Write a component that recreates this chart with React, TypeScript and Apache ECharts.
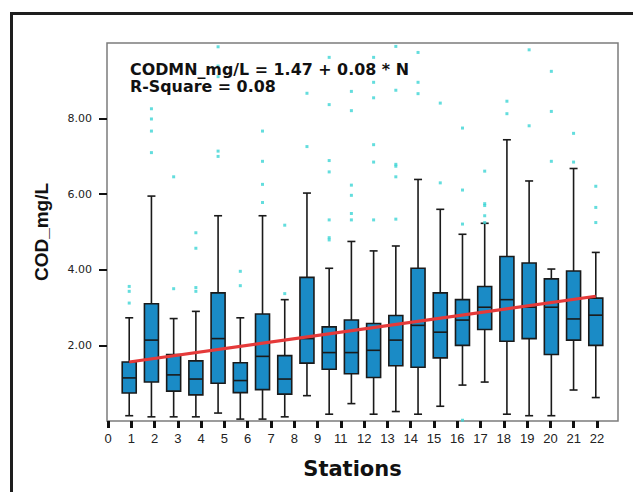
import React, { useEffect, useRef } from "react";
import * as echarts from "echarts";

// Box positions along the station axis (1..22)
const POSITIONS = [1, 2, 3, 4, 5, 6, 7, 8, 9, 10, 11, 12, 13, 14, 15, 16, 17, 18, 19, 20, 21, 22];
// Tick labels as printed under the axis
const TICK_LABELS = ["0", "1", "2", "3", "4", "5", "6", "7", "8", "9", "11", "12", "13", "14", "15", "16", "17", "18", "19", "20", "21", "22"];

const LOWS = [0.14, 0.11, 0.11, 0.11, 0.21, 0.05, 0.05, 0.11, 0.67, 0.18, 0.46, 0.18, 0.25, 0.18, 0.39, 0.95, 1.03, 0.18, 0.14, 0.14, 0.82, 0.62];
const Q1S = [0.74, 1.03, 0.79, 0.69, 1.0, 0.75, 0.83, 0.71, 1.53, 1.37, 1.25, 1.15, 1.46, 1.42, 1.67, 2.0, 2.42, 2.11, 2.18, 1.76, 2.14, 2.0];
const MEDIANS = [1.14, 2.14, 1.22, 1.11, 2.18, 1.07, 1.71, 1.11, 2.18, 1.81, 1.81, 1.87, 2.14, 2.53, 2.35, 2.67, 3.01, 3.21, 3.01, 3.01, 2.7, 2.8];
const Q3S = [1.56, 3.1, 1.76, 1.59, 3.39, 1.54, 2.83, 1.73, 3.8, 2.49, 2.67, 2.58, 2.79, 4.04, 3.39, 3.21, 3.56, 4.35, 4.18, 3.76, 3.97, 3.25];
const HIGHS = [2.73, 5.95, 2.71, 2.9, 5.43, 2.73, 5.43, 3.21, 6.03, 4.04, 4.75, 4.5, 4.63, 6.39, 5.6, 4.94, 5.23, 7.44, 6.35, 4.02, 6.68, 4.46];

const OUTLIERS: number[][] = [
  [3.56, 3.43, 3.12],
  [8.26, 7.99, 7.67, 7.1],
  [6.46, 3.5],
  [4.98, 4.57, 3.53, 3.43],
  [9.9, 9.39, 9.11, 7.14, 7.0],
  [3.96, 3.58],
  [7.67, 6.87, 6.26, 5.78],
  [5.18, 3.37],
  [8.67, 7.26],
  [9.62, 8.37, 6.89, 6.59, 5.32, 4.85, 4.79],
  [8.72, 8.21, 6.24, 5.97, 5.49, 5.32],
  [9.62, 8.96, 8.55, 7.31, 6.85, 5.32],
  [9.91, 8.75, 6.79, 6.74, 6.46, 5.34],
  [9.75, 8.96, 8.66],
  [8.41, 6.3],
  [7.75, 6.11, 5.21, 0.02],
  [6.61, 5.75, 5.7, 5.43, 5.25],
  [8.46, 8.13],
  [9.82, 7.81],
  [9.25, 8.19, 6.87],
  [7.61, 6.85],
  [6.21, 5.65, 5.25],
];

// Fitted line end points (station 1 and station 22)
const FIT_X = [1, 22];
const FIT_Y = [1.56, 3.3];

const Y_TICKS = [2, 4, 6, 8];

export default function App() {
  const ref = useRef<HTMLDivElement>(null);

  useEffect(() => {
    if (!ref.current) return;
    const chart = echarts.init(ref.current, undefined, { renderer: "svg" });

    const axisCats = Array.from({ length: 24 }, (_, i) => "p" + i);
    const boxData = POSITIONS.map((p, i) => [p, LOWS[i], Q1S[i], MEDIANS[i], Q3S[i], HIGHS[i]]);
    const outData: number[][] = [];
    POSITIONS.forEach((p, i) => OUTLIERS[i].forEach((v) => outData.push([p, v])));
    const fitData = FIT_X.map((x, i) => [x, FIT_Y[i]]);

    const BOX_W = 14;
    const CAP_W = 8;

    chart.setOption({
      animation: false,
      backgroundColor: "#ffffff",
      textStyle: { fontFamily: "Liberation Sans, Arial, sans-serif" },
      grid: [
        { left: 107, top: 43, width: 511, height: 378, show: true, borderColor: "#7c7c7c", borderWidth: 1.5, backgroundColor: "#ffffff" },
        { left: 108, top: 43, width: 489, height: 378, show: false },
      ],
      xAxis: [
        {
          type: "category",
          gridIndex: 0,
          data: axisCats,
          boundaryGap: false,
          axisLine: { show: false },
          axisTick: { show: false },
          axisLabel: { show: false },
          splitLine: { show: false },
        },
        {
          type: "category",
          gridIndex: 1,
          data: TICK_LABELS,
          boundaryGap: false,
          axisLine: { show: false },
          axisTick: { show: true, length: 7, lineStyle: { color: "#111", width: 3 } },
          axisLabel: { fontSize: 13, color: "#222", margin: 11, interval: 0 },
          splitLine: { show: false },
          name: "Stations",
          nameLocation: "middle",
          nameGap: 37,
          nameTextStyle: { fontSize: 21, fontWeight: "bold", color: "#111", fontFamily: "DejaVu Sans, sans-serif" },
        },
      ],
      yAxis: [
        {
          type: "value",
          gridIndex: 0,
          min: 0,
          max: 10,
          interval: 2,
          axisLine: { show: false },
          axisTick: { show: true, length: 8, lineStyle: { color: "#111", width: 2 }, customValues: Y_TICKS },
          axisLabel: { fontSize: 11, color: "#222", margin: 15, customValues: Y_TICKS, formatter: (v: number) => v.toFixed(2), fontFamily: "DejaVu Sans, sans-serif" },
          splitLine: { show: false },
          name: "COD_mg/L",
          nameLocation: "middle",
          nameRotate: 90,
          nameGap: 56,
          nameTextStyle: { fontSize: 19, fontWeight: "bold", color: "#111" },
        },
        { type: "value", gridIndex: 1, min: 0, max: 10, show: false },
      ],
      series: [
        {
          type: "custom",
          xAxisIndex: 0,
          yAxisIndex: 0,
          data: boxData,
          z: 2,
          renderItem: (params: any, api: any) => {
            const x = api.value(0);
            const pLow = api.coord([x, api.value(1)]);
            const pQ1 = api.coord([x, api.value(2)]);
            const pMed = api.coord([x, api.value(3)]);
            const pQ3 = api.coord([x, api.value(4)]);
            const pHigh = api.coord([x, api.value(5)]);
            const cx = pMed[0];
            const stroke = { stroke: "#1a1a1a", lineWidth: 1.6 };
            return {
              type: "group",
              children: [
                { type: "line", shape: { x1: cx, y1: pHigh[1], x2: cx, y2: pQ3[1] }, style: stroke },
                { type: "line", shape: { x1: cx, y1: pQ1[1], x2: cx, y2: pLow[1] }, style: stroke },
                { type: "line", shape: { x1: cx - CAP_W / 2, y1: pHigh[1], x2: cx + CAP_W / 2, y2: pHigh[1] }, style: stroke },
                { type: "line", shape: { x1: cx - CAP_W / 2, y1: pLow[1], x2: cx + CAP_W / 2, y2: pLow[1] }, style: stroke },
                {
                  type: "rect",
                  shape: { x: cx - BOX_W / 2, y: pQ3[1], width: BOX_W, height: pQ1[1] - pQ3[1] },
                  style: { fill: "#1a8bc6", stroke: "#1a1a1a", lineWidth: 1.6 },
                },
                { type: "line", shape: { x1: cx - BOX_W / 2, y1: pMed[1], x2: cx + BOX_W / 2, y2: pMed[1] }, style: stroke },
              ],
            };
          },
        },
        {
          type: "line",
          xAxisIndex: 0,
          yAxisIndex: 0,
          data: fitData,
          showSymbol: false,
          symbol: "none",
          lineStyle: { color: "#e53a3a", width: 3.2 },
          z: 3,
        },
        {
          type: "scatter",
          xAxisIndex: 0,
          yAxisIndex: 0,
          data: outData,
          symbol: "rect",
          symbolSize: 3,
          itemStyle: { color: "#3cd4d4" },
          z: 4,
        },
      ],
      graphic: [
        {
          type: "rect",
          left: 9,
          top: 11,
          shape: { width: 700, height: 600 },
          style: { fill: "none", stroke: "#1e1e1e", lineWidth: 3 },
          silent: true,
          z: 0,
        },
        {
          type: "text",
          x: 130,
          y: 62,
          scaleX: 1.06,
          style: {
            text: "CODMN_mg/L = 1.47 + 0.08 * N\nR-Square = 0.08",
            font: "bold 15px DejaVu Sans, sans-serif",
            fill: "#111",
            lineHeight: 17,
          },
          z: 10,
        },
      ],
    });

    return () => chart.dispose();
  }, []);

  return <div ref={ref} style={{ position: "fixed", left: 0, top: 0, width: 633, height: 492 }} />;
}
